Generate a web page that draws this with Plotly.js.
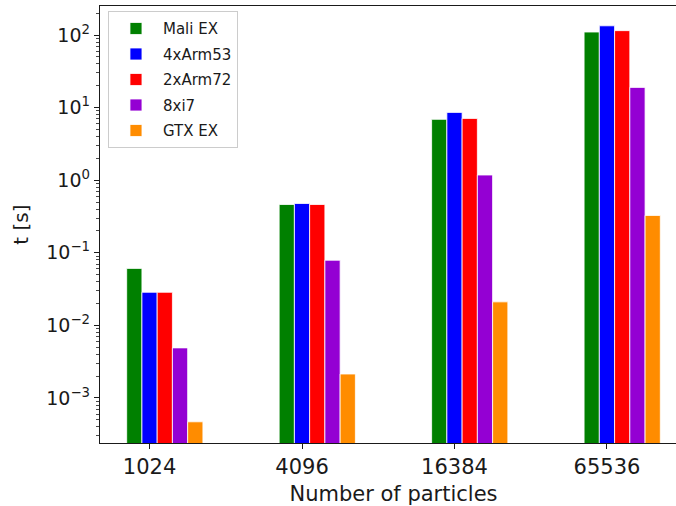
<!DOCTYPE html>
<html>
<head>
<meta charset="utf-8">
<script src="https://cdn.plot.ly/plotly-3.0.1.min.js"></script>
<style>
  html, body { margin: 0; padding: 0; overflow: hidden; background: #fff; }
  #chart { width: 700px; height: 506px; }
</style>
</head>
<body>
<div id="chart"></div>
<script>
// Run time t [s] per device for each particle count
const categories = ['1024', '4096', '16384', '65536'];
const seriesNames = ['Mali EX', '4xArm53', '2xArm72', '8xi7', 'GTX EX'];
const maliEx  = [0.061, 0.463, 6.9, 110];
const arm53   = [0.0286, 0.478, 8.6, 134];
const arm72   = [0.0286, 0.463, 7.1, 115];
const xi7     = [0.0049, 0.079, 1.18, 19];
const gtxEx   = [0.00047, 0.00214, 0.0211, 0.327];
const yTickExponents = [-3, -2, -1, 0, 1, 2];

const seriesValues = [maliEx, arm53, arm72, xi7, gtxEx];
const seriesColors = ['#008000', '#0000ff', '#ff0000', '#9400d3', '#ff8c00'];

const barWidth = 0.1;
const positions = categories.map((_, i) => i);

const traces = seriesValues.map((vals, k) => ({
  type: 'bar',
  name: seriesNames[k],
  legendgroup: 'g' + k,
  x: positions,
  y: vals,
  width: barWidth,
  offset: (k - 1) * barWidth - barWidth / 2,
  marker: { color: seriesColors[k], line: { color: '#ffffff', width: 0.8 } },
  hoverinfo: 'x+y+name'
}));

// minor ticks at 2..9 within each decade
const minorVals = [];
for (let e = -4; e <= 2; e++) {
  for (let m = 2; m <= 9; m++) minorVals.push(m * Math.pow(10, e));
}

const font = 'DejaVu Sans, sans-serif';
const ink = '#1a1a1a';

const layout = {
  width: 700,
  height: 506,
  margin: { l: 100, r: 13, t: 6, b: 63 },
  paper_bgcolor: '#ffffff',
  plot_bgcolor: '#ffffff',
  barmode: 'group',
  showlegend: true,
  font: { family: font, color: ink },
  xaxis: {
    range: [-0.325, 3.525],
    tickmode: 'array',
    tickvals: positions,
    ticktext: categories,
    ticks: 'outside',
    ticklen: 5,
    tickwidth: 1,
    tickcolor: ink,
    tickfont: { family: font, size: 21, color: ink },
    showgrid: false,
    zeroline: false,
    showline: true,
    linecolor: ink,
    linewidth: 1.2,
    mirror: true,
    title: { text: 'Number of particles', font: { family: font, size: 21, color: ink } }
  },
  yaxis: {
    type: 'log',
    range: [-3.62, 2.40],
    tickmode: 'array',
    tickvals: yTickExponents.map(e => Math.pow(10, e)),
    ticktext: yTickExponents.map(e => '10<sup>' + (e < 0 ? '\u2212' + (-e) : e) + '</sup>'),
    ticks: 'outside',
    ticklen: 5,
    tickwidth: 1,
    tickcolor: ink,
    tickfont: { family: font, size: 19, color: ink },
    minor: { tickmode: 'array', tickvals: minorVals, ticks: 'outside', ticklen: 3, tickwidth: 0.8, tickcolor: ink, showgrid: false },
    showgrid: false,
    zeroline: false,
    showline: true,
    linecolor: ink,
    linewidth: 1.2,
    mirror: true,
    title: { text: 't [s]', standoff: 12, font: { family: font, size: 20, color: ink } }
  },
  legend: {
    x: 0.0136, y: 0.988, xanchor: 'left', yanchor: 'top',
    bgcolor: 'rgba(255,255,255,0.8)',
    bordercolor: '#cccccc',
    borderwidth: 1,
    font: { family: font, size: 15, color: ink },
    itemwidth: 44,
    tracegroupgap: 3,
    traceorder: 'grouped'
  }
};

Plotly.newPlot('chart', traces, layout, { displayModeBar: false, staticPlot: true });
</script>
</body>
</html>
